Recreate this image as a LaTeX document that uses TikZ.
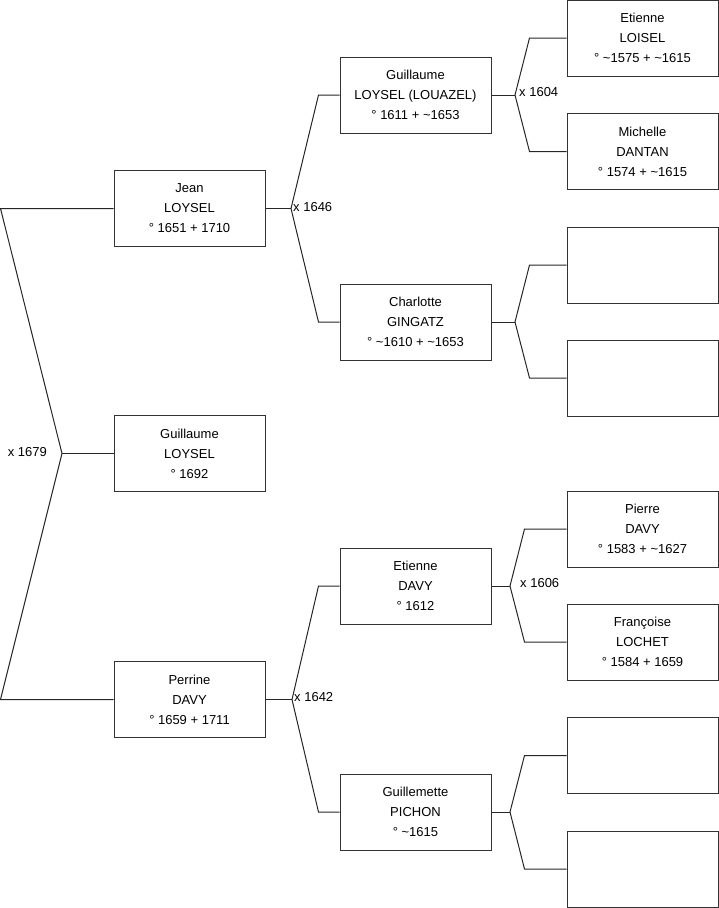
\documentclass[tikz,border=0pt]{standalone}
\usepackage{fontspec}
\setmainfont{Liberation Sans}
\begin{document}
\begin{tikzpicture}[x=1pt,y=-1pt,
  person/.style={draw=black!80, line width=1pt, minimum width=151pt, minimum height=76pt,
    align=center, font=\fontsize{13}{20}\selectfont, inner sep=0pt},
  link/.style={draw=black!85, line width=1pt},
  lbl/.style={font=\fontsize{13}{14}\selectfont, inner sep=0pt}]
\useasboundingbox (0,0) rectangle (719,908);
% generation 1
\node[person] (jean) at (189.5,208.5) {Jean\\LOYSEL\\° 1651 + 1710};
\node[person] (guil) at (189.5,453.5) {Guillaume\\LOYSEL\\° 1692};
\node[person] (perr) at (189.5,699.5) {Perrine\\DAVY\\° 1659 + 1711};
% generation 2
\node[person] (guilo) at (415.5,95) {Guillaume\\LOYSEL (LOUAZEL)\\° 1611 + \textasciitilde1653};
\node[person] (charl) at (415.5,322) {Charlotte\\GINGATZ\\° \textasciitilde1610 + \textasciitilde1653};
\node[person] (etd) at (415.5,586) {Etienne\\DAVY\\° 1612};
\node[person] (guip) at (415.5,812) {Guillemette\\PICHON\\° \textasciitilde1615};
% generation 3
\node[person] (etl) at (642.5,38) {Etienne\\LOISEL\\° \textasciitilde1575 + \textasciitilde1615};
\node[person] (mic) at (642.5,151.5) {Michelle\\DANTAN\\° 1574 + \textasciitilde1615};
\node[person] (e1) at (642.5,265) {};
\node[person] (e2) at (642.5,378) {};
\node[person] (pie) at (642.5,529) {Pierre\\DAVY\\° 1583 + \textasciitilde1627};
\node[person] (fra) at (642.5,642) {Françoise\\LOCHET\\° 1584 + 1659};
\node[person] (e3) at (642.5,755.5) {};
\node[person] (e4) at (642.5,869) {};

% left junction
\coordinate (cJ) at (0.5,208.5);
\coordinate (m0) at (62,453.5);
\coordinate (cP) at (0.5,699.5);
\draw[link] (jean.west) -- (cJ) -- (m0) -- (cP) -- (perr.west);
\draw[link] (m0) -- (guil.west);
\node[lbl,anchor=east] (l1679) at (47,452.5) {x 1679};

% Jean
\coordinate (jJ) at (291,208.5);
\draw[link] (jean.east) -- (jJ);
\draw[link] (guilo.west) -- ++(-21,0) -- (jJ) -- ([xshift=-21pt]charl.west) -- (charl.west);
\node[lbl,anchor=west] (l1646) at (293,207.5) {x 1646};

% Perrine
\coordinate (jP) at (292,699.5);
\draw[link] (perr.east) -- (jP);
\draw[link] (etd.west) -- ++(-21,0) -- (jP) -- ([xshift=-21pt]guip.west) -- (guip.west);
\node[lbl,anchor=west] (l1642) at (294,697.5) {x 1642};

% Guillaume (Louazel)
\coordinate (jG) at (515,95);
\draw[link] (guilo.east) -- (jG);
\draw[link] (etl.west) -- ++(-37,0) -- (jG) -- ([xshift=-37pt]mic.west) -- (mic.west);
\node[lbl,anchor=west] (l1604) at (519,92.5) {x 1604};

% Charlotte
\coordinate (jC) at (515,322);
\draw[link] (charl.east) -- (jC);
\draw[link] (e1.west) -- ++(-37,0) -- (jC) -- ([xshift=-37pt]e2.west) -- (e2.west);

% Etienne Davy
\coordinate (jE) at (510,586);
\draw[link] (etd.east) -- (jE);
\draw[link] (pie.west) -- ++(-42,0) -- (jE) -- ([xshift=-42pt]fra.west) -- (fra.west);
\node[lbl,anchor=west] (l1606) at (520,583.5) {x 1606};

% Guillemette
\coordinate (jU) at (510,812);
\draw[link] (guip.east) -- (jU);
\draw[link] (e3.west) -- ++(-42,0) -- (jU) -- ([xshift=-42pt]e4.west) -- (e4.west);
\end{tikzpicture}
\end{document}
